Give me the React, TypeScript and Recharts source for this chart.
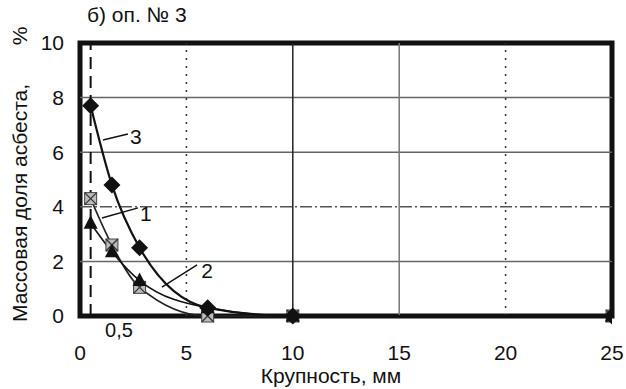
import React from 'react';
import { LineChart, Line, XAxis, YAxis, ReferenceLine, ReferenceArea, ReferenceDot } from 'recharts';

const xTicks = [0, 5, 10, 15, 20, 25];
const yTicks = [0, 2, 4, 6, 8, 10];

const series1 = [
  { x: 0.5, y: 4.3 },
  { x: 1.5, y: 2.6 },
  { x: 2.8, y: 1.05 },
  { x: 6, y: 0 },
  { x: 10, y: 0 },
  { x: 25, y: 0 },
];
const series2 = [
  { x: 0.5, y: 3.4 },
  { x: 1.5, y: 2.35 },
  { x: 2.8, y: 1.3 },
  { x: 6, y: 0.3 },
  { x: 10, y: 0 },
  { x: 25, y: 0 },
];
const series3 = [
  { x: 0.5, y: 7.7 },
  { x: 1.5, y: 4.8 },
  { x: 2.8, y: 2.5 },
  { x: 6, y: 0.3 },
  { x: 10, y: 0 },
  { x: 25, y: 0 },
];

const seriesLabels = [
  { name: '1', x: 3.1, y: 3.77, from: { x: 1.03, y: 3.59 }, to: { x: 2.73, y: 3.96 } },
  { name: '2', x: 5.97, y: 1.68, from: { x: 3.85, y: 1.06 }, to: { x: 5.5, y: 1.87 } },
  { name: '3', x: 2.63, y: 6.56, from: { x: 1.08, y: 6.45 }, to: { x: 2.25, y: 6.67 } },
];

const FONT = '"Liberation Sans", Arial, sans-serif';

const Diamond = (p: any) => {
  const { cx, cy } = p;
  if (cx == null || cy == null) return null;
  const s = 8.5;
  return <polygon points={`${cx},${cy - s} ${cx + s},${cy} ${cx},${cy + s} ${cx - s},${cy}`} fill="#111" />;
};
const Triangle = (p: any) => {
  const { cx, cy } = p;
  if (cx == null || cy == null) return null;
  return <polygon points={`${cx},${cy - 8} ${cx + 7},${cy + 5.5} ${cx - 7},${cy + 5.5}`} fill="#111" />;
};
const Hatched = (p: any) => {
  const { cx, cy } = p;
  if (cx == null || cy == null) return null;
  const s = 6;
  return (
    <g>
      <rect x={cx - s} y={cy - s} width={2 * s} height={2 * s} fill="#bbb" stroke="#444" strokeWidth={1} />
      <line x1={cx - s} y1={cy - s} x2={cx + s} y2={cy + s} stroke="#333" strokeWidth={1.3} />
      <line x1={cx + s} y1={cy - s} x2={cx - s} y2={cy + s} stroke="#333" strokeWidth={1.3} />
    </g>
  );
};

export default function App() {
  return (
    <div style={{ position: 'absolute', left: 0, top: 0, width: 626, height: 389, background: '#fff' }}>
      <LineChart
        width={626}
        height={389}
        margin={{ top: 43, right: 14, bottom: 33, left: 20 }}
        style={{ fontFamily: FONT }}
      >
        <XAxis
          type="number"
          dataKey="x"
          domain={[0, 25]}
          ticks={xTicks}
          height={40}
          axisLine={false}
          tickLine={false}
          tickMargin={23}
          tick={{ fontSize: 21, fill: '#111', fontFamily: FONT }}
          allowDataOverflow
        />
        <YAxis
          type="number"
          dataKey="y"
          domain={[0, 10]}
          ticks={yTicks}
          width={60}
          axisLine={false}
          tickLine={false}
          tickMargin={10}
          tick={{ fontSize: 21, fill: '#111', fontFamily: FONT }}
        />
        <ReferenceLine y={8} stroke="#666" strokeWidth={1.5} />
        <ReferenceLine y={6} stroke="#666" strokeWidth={1.5} />
        <ReferenceLine y={4} stroke="#555" strokeWidth={1.5} strokeDasharray="12 3 2 3" />
        <ReferenceLine y={2} stroke="#666" strokeWidth={1.5} />
        <ReferenceLine x={5} stroke="#333" strokeWidth={1.5} strokeDasharray="2 6" />
        <ReferenceLine x={10} stroke="#222" strokeWidth={1.5} />
        <ReferenceLine x={15} stroke="#777" strokeWidth={1.5} />
        <ReferenceLine x={20} stroke="#333" strokeWidth={1.5} strokeDasharray="2 6" />
        <ReferenceLine x={0.5} stroke="#111" strokeWidth={2} strokeDasharray="12 7" />
        {seriesLabels.map((l) => (
          <ReferenceLine
            key={'seg' + l.name}
            segment={[l.from, l.to]}
            stroke="#111"
            strokeWidth={1.5}
          />
        ))}
        <ReferenceArea x1={0} x2={25} y1={0} y2={10} fill="none" stroke="#111" strokeWidth={5} />
        <Line data={series1} dataKey="y" type="monotone" stroke="#222" strokeWidth={1.6} dot={<Hatched />} isAnimationActive={false} />
        <Line data={series2} dataKey="y" type="monotone" stroke="#111" strokeWidth={1.6} dot={<Triangle />} isAnimationActive={false} />
        <Line data={series3} dataKey="y" type="monotone" stroke="#111" strokeWidth={2.2} dot={<Diamond />} isAnimationActive={false} />
        {seriesLabels.map((l) => (
          <ReferenceDot
            key={'lab' + l.name}
            x={l.x}
            y={l.y}
            r={0}
            fill="none"
            stroke="none"
            label={{ value: l.name, position: 'center', fontSize: 21, fill: '#111', fontFamily: FONT }}
          />
        ))}
      </LineChart>
      <svg width={626} height={389} style={{ position: 'absolute', left: 0, top: 0, pointerEvents: 'none' }}>
        <text x={87} y={22} fontSize={21} fontFamily={FONT} fill="#111">б) оп. № 3</text>
        <text x={119} y={337} fontSize={20} fontFamily={FONT} fill="#111" textAnchor="middle">0,5</text>
        <text x={331} y={383} fontSize={21} fontFamily={FONT} fill="#111" textAnchor="middle">Крупность, мм</text>
        <text transform="translate(27,203) rotate(-90)" fontSize={21} fontFamily={FONT} fill="#111" textAnchor="middle">Массовая доля асбеста,</text>
        <text transform="translate(27,36) rotate(-90)" fontSize={21} fontFamily={FONT} fill="#111" textAnchor="middle">%</text>
      </svg>
    </div>
  );
}
